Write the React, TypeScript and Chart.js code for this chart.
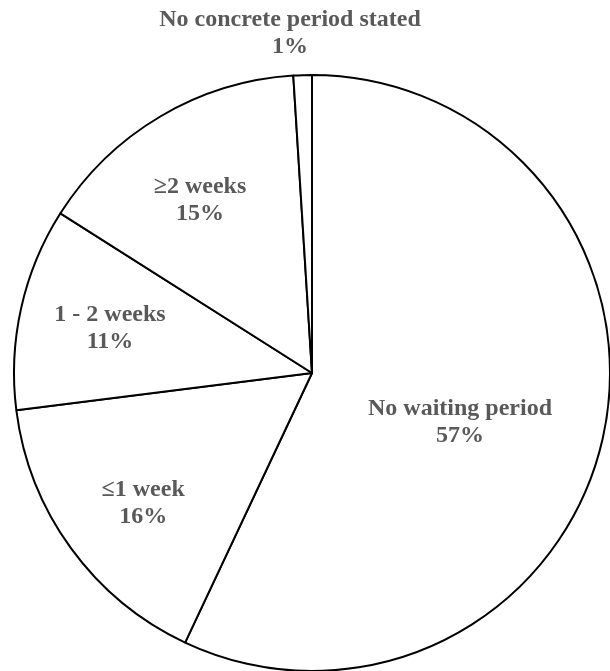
import React, { useEffect, useRef } from "react";
import { Chart, registerables } from "chart.js";

Chart.register(...registerables);

const categories: string[] = [
  "No waiting period",
  "≤1 week",
  "1 - 2 weeks",
  "≥2 weeks",
  "No concrete period stated",
];
const shares: number[] = [57, 16, 11, 15, 1];
const percentLabels: string[] = shares.map((v) => `${v}%`);

// label placement: [radius fraction, angle shift in degrees]
const labelPlacement: [number, number][] = [
  [0.523, 5.7],
  [0.716, -1.7],
  [0.694, -0.2],
  [0.69, -2.4],
  [1.142, -1.9],
];

const labelPlugin = {
  id: "sliceLabels",
  afterDatasetsDraw(chart: any) {
    const ctx = chart.ctx;
    const meta = chart.getDatasetMeta(0);
    ctx.save();
    ctx.fillStyle = "#595959";
    ctx.font = "bold 24px 'Liberation Serif', 'Times New Roman', serif";
    ctx.textAlign = "center";
    ctx.textBaseline = "middle";
    meta.data.forEach((arc: any, i: number) => {
      const p = arc.getProps(["x", "y", "startAngle", "endAngle", "outerRadius"], true);
      const [frac, shift] = labelPlacement[i];
      const mid = (p.startAngle + p.endAngle) / 2 + (shift * Math.PI) / 180;
      const r = p.outerRadius * frac;
      const cx = p.x + Math.cos(mid) * r;
      const cy = p.y + Math.sin(mid) * r;
      ctx.fillText(categories[i], cx, cy - 13.5);
      ctx.fillText(percentLabels[i], cx, cy + 13.5);
    });
    ctx.restore();
  },
};

export default function App() {
  const ref = useRef<HTMLCanvasElement | null>(null);
  useEffect(() => {
    if (!ref.current) return;
    const chart = new Chart(ref.current, {
      type: "pie",
      data: {
        labels: categories,
        datasets: [
          {
            data: shares,
            backgroundColor: "#ffffff",
            borderColor: "#000000",
            borderWidth: 2,
            radius: 298,
          } as any,
        ],
      },
      options: {
        responsive: false,
        maintainAspectRatio: false,
        animation: false,
        events: [],
        layout: { padding: { left: 14, top: 75, right: 0, bottom: 0 } },
        plugins: {
          legend: { display: false },
          tooltip: { enabled: false },
          title: { display: false },
        },
      },
      plugins: [labelPlugin],
    });
    return () => chart.destroy();
  }, []);
  return (
    <div style={{ position: "absolute", left: 0, top: 0, width: 610, height: 671, background: "#fff" }}>
      <canvas ref={ref} width={610} height={671} style={{ display: "block" }} />
    </div>
  );
}
